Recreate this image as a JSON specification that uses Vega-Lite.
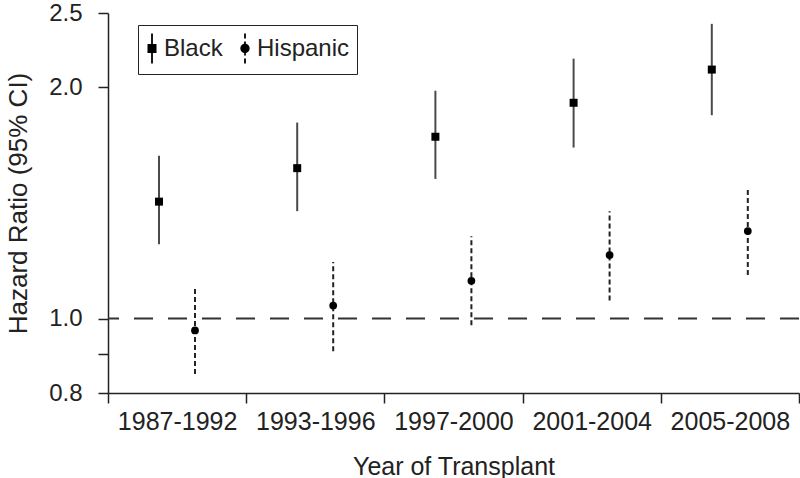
{
  "$schema": "https://vega.github.io/schema/vega-lite/v6.json",
  "width": 691,
  "height": 380,
  "autosize": {"type": "none"},
  "padding": {"left": 108, "top": 13, "right": 1, "bottom": 85},
  "background": "white",
  "config": {
    "view": {"stroke": null},
    "font": "Liberation Sans",
    "axis": {
      "domainColor": "#222", "domainWidth": 1.5, "tickColor": "#222", "tickWidth": 1.5, "tickSize": 10,
      "labelFontSize": 25, "labelColor": "#222", "titleFontSize": 25, "titleColor": "#222",
      "titleFontWeight": "normal", "grid": false
    },
    "axisY": {"labelFontSize": 24}
  },
  "data": {
    "values": [
      {"period": "1987-1992", "group": "Black", "hr": 1.42, "lo": 1.25, "hi": 1.63},
      {"period": "1987-1992", "group": "Hispanic", "hr": 0.965, "lo": 0.847, "hi": 1.1},
      {"period": "1993-1996", "group": "Black", "hr": 1.57, "lo": 1.38, "hi": 1.8},
      {"period": "1993-1996", "group": "Hispanic", "hr": 1.04, "lo": 0.907, "hi": 1.185},
      {"period": "1997-2000", "group": "Black", "hr": 1.725, "lo": 1.52, "hi": 1.98},
      {"period": "1997-2000", "group": "Hispanic", "hr": 1.12, "lo": 0.98, "hi": 1.28},
      {"period": "2001-2004", "group": "Black", "hr": 1.91, "lo": 1.67, "hi": 2.18},
      {"period": "2001-2004", "group": "Hispanic", "hr": 1.21, "lo": 1.056, "hi": 1.38},
      {"period": "2005-2008", "group": "Black", "hr": 2.11, "lo": 1.84, "hi": 2.42},
      {"period": "2005-2008", "group": "Hispanic", "hr": 1.3, "lo": 1.14, "hi": 1.48}
    ]
  },
  "encoding": {
    "x": {
      "field": "period", "type": "nominal", "sort": null,
      "scale": {"paddingInner": 0, "paddingOuter": 0},
      "axis": {"title": "Year of Transplant", "tickBand": "extent", "labelAngle": 0, "labelPadding": 6, "titlePadding": 20}
    },
    "xOffset": {"field": "group", "type": "nominal", "scale": {"type": "point", "domain": ["Black", "Hispanic"], "range": [51, 87], "padding": 0}}
  },
  "layer": [
    {
      "data": {"values": [{"ref": 1}]},
      "mark": {"type": "rule", "strokeWidth": 2, "color": "#333", "strokeDash": [19, 15]},
      "encoding": {
        "x": null,
        "xOffset": null,
        "y": {
          "field": "ref", "type": "quantitative",
          "scale": {"type": "log", "domain": [0.8, 2.5], "nice": false},
          "axis": {
            "title": "Hazard Ratio (95% CI)", "values": [0.8, 0.9, 1, 2, 2.5],
            "labelExpr": "datum.value == 0.9 ? '' : format(datum.value, '.1f')",
            "labelPadding": 16, "titleFontSize": 26, "titleX": -82, "titleY": 190,
            "titleAngle": -90, "titleAlign": "center", "titleBaseline": "alphabetic"
          }
        }
      }
    },
    {
      "transform": [{"filter": "datum.group === 'Black'"}],
      "mark": {"type": "rule", "strokeWidth": 2, "color": "#4a4a4a"},
      "encoding": {
        "y": {"field": "lo", "type": "quantitative", "scale": {"type": "log", "domain": [0.8, 2.5], "nice": false}},
        "y2": {"field": "hi"}
      }
    },
    {
      "transform": [{"filter": "datum.group === 'Hispanic'"}],
      "mark": {"type": "rule", "strokeWidth": 2, "color": "#222", "strokeDash": [5, 3]},
      "encoding": {
        "y": {"field": "lo", "type": "quantitative", "scale": {"type": "log", "domain": [0.8, 2.5], "nice": false}},
        "y2": {"field": "hi"}
      }
    },
    {
      "transform": [{"filter": "datum.group === 'Black'"}],
      "mark": {"type": "point", "shape": "square", "filled": true, "opacity": 1, "color": "#000", "size": 64},
      "encoding": {
        "y": {"field": "hr", "type": "quantitative", "scale": {"type": "log", "domain": [0.8, 2.5], "nice": false}}
      }
    },
    {
      "transform": [{"filter": "datum.group === 'Hispanic'"}],
      "mark": {"type": "point", "shape": "circle", "filled": true, "opacity": 1, "color": "#000", "size": 60},
      "encoding": {
        "y": {"field": "hr", "type": "quantitative", "scale": {"type": "log", "domain": [0.8, 2.5], "nice": false}}
      }
    },
    {
      "mark": {"type": "point", "filled": true, "opacity": 0, "color": "#000"},
      "encoding": {
        "y": {"field": "hr", "type": "quantitative", "scale": {"type": "log", "domain": [0.8, 2.5], "nice": false}},
        "shape": {
          "field": "group", "type": "nominal",
          "scale": {"domain": ["Black", "Hispanic"], "range": [
            "M-0.693,-1H-0.573V1H-0.693Z M-0.933,-0.3H-0.333V0.3H-0.933Z",
            "M-0.693,-1H-0.573V-0.667H-0.693Z M-0.693,-0.467H-0.573V-0.133H-0.693Z M-0.693,0.133H-0.573V0.467H-0.693Z M-0.693,0.667H-0.573V1H-0.693Z M-0.943,0A0.31,0.31 0 1,1 -0.323,0A0.31,0.31 0 1,1 -0.943,0Z"
          ]},
          "legend": {
            "title": null, "orient": "none", "legendX": 30, "legendY": 12, "direction": "horizontal",
            "columns": 2, "padding": 7.5, "strokeColor": "#222", "fillColor": "white",
            "symbolSize": 900, "labelFontSize": 24, "labelColor": "#222", "labelOffset": -13.5,
            "columnPadding": 13, "symbolOpacity": 1, "symbolFillColor": "#000",
            "encode": {
              "legend": {"update": {"strokeWidth": {"value": 1.5}}},
              "symbols": {
                "update": {
                  "fill": {"value": "#000"},
                  "opacity": {"value": 1}
                }
              }
            }
          }
        }
      }
    }
  ]
}
